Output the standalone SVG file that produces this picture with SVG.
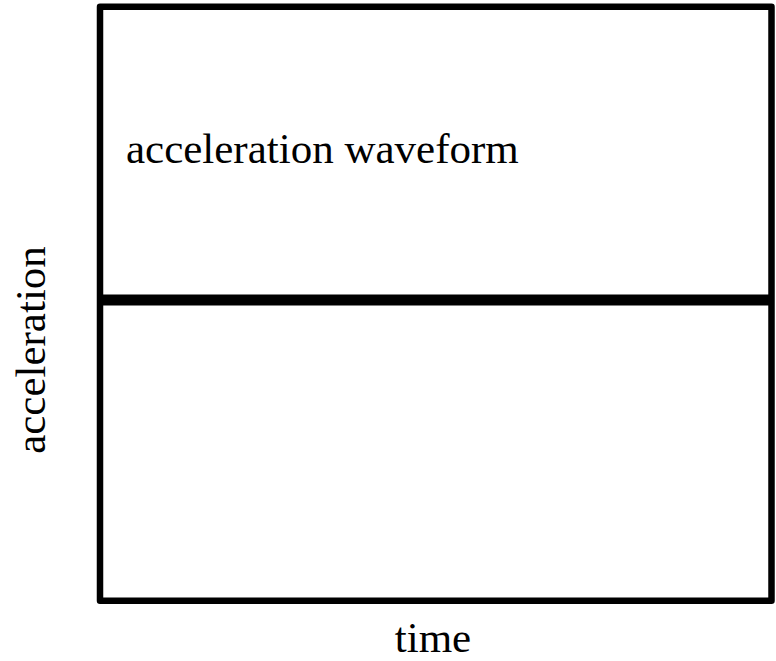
<svg xmlns="http://www.w3.org/2000/svg" width="776" height="661" viewBox="0 0 776 661">
  <style>
    .lbl { font-family: "Liberation Serif", "Times New Roman", serif; font-size: 43px; fill: #000; }
    .frame { fill: none; stroke: #000; stroke-width: 6.5; stroke-linejoin: round; }
    .axis { stroke: #000; stroke-width: 11; }
  </style>
  <rect width="776" height="661" fill="#fff"/>
  <g id="plot">
    <rect class="frame" x="100" y="6.7" width="671.5" height="594"/>
  </g>
  <g id="connectors">
    <line class="axis" x1="100" y1="300" x2="771.5" y2="300"/>
  </g>
  <g id="labels">
    <text class="lbl" x="126" y="163">acceleration waveform</text>
    <text class="lbl" x="433" y="652" text-anchor="middle">time</text>
    <text class="lbl" transform="translate(45,350) rotate(-90)" text-anchor="middle">acceleration</text>
  </g>
</svg>
